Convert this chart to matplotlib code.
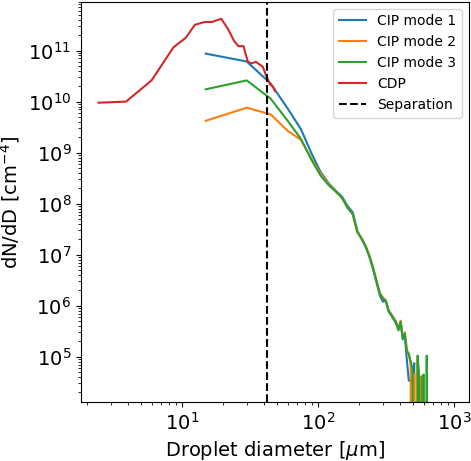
import numpy as np
import matplotlib
matplotlib.use("Agg")
import matplotlib.pyplot as plt

# CDP
cdp_d = [2.45, 3.9, 6.0, 8.7, 10.7, 12.5, 14.6, 16.8, 19.5, 21.8, 24.3, 26.1,
         28.4, 30.6, 32.6, 35.0, 39.4, 41.7, 44.6, 46.5, 48.5]
cdp_n = [9.5e9, 1.0e10, 2.6e10, 1.16e11, 1.78e11, 3.2e11, 3.6e11, 3.65e11, 4.2e11,
         2.67e11, 1.52e11, 1.22e11, 1.22e11, 6.0e10, 5.6e10, 6.0e10, 4.8e10,
         3.2e10, 2.15e10, 2.0e10, 1.6e10]

# CIP bins (15 um resolution)
cip_d = [15, 30, 45, 60, 75, 90, 105, 120, 135, 150, 165, 180, 195, 210, 225,
         240, 255, 270, 285, 300, 315, 330, 345, 360, 375, 390, 405, 420, 435,
         450, 465, 480, 495, 510, 525, 540, 555, 570, 585, 600, 615, 630, 645]

cip_mode1 = [8.7e10, 6.1e10, 2.25e10, 7.3e9, 2.88e9, 9.5e8, 4.1e8, 2.5e8, 1.8e8,
             1.38e8, 9.0e7, 6.8e7, 2.9e7, 2.0e7, 1.4e7, 8.8e6, 5.0e6, 2.8e6,
             1.6e6, 1.2e6, 1.25e6, 7.8e5, 6.5e5, 5.4e5, 4.5e5, 3.3e5, 4.6e5,
             2.2e5, 2.6e5, 8.6e4, 3.4e4, 3.4e4, 3.4e4, 7.5e4, 0, 0, 0, 0, 0,
             0, 0, 0, 0]
cip_mode2 = [4.2e9, 7.6e9, 5.6e9, 2.67e9, 1.78e9, 7.4e8, 3.8e8, 2.4e8, 1.75e8,
             1.3e8, 8.4e7, 6.2e7, 2.7e7, 2.1e7, 1.45e7, 9.4e6, 5.5e6, 3.0e6,
             1.8e6, 1.45e6, 1.28e6, 8.3e5, 6.9e5, 5.8e5, 4.9e5, 3.5e5, 5.1e5,
             2.4e5, 3.0e5, 1.4e5, 1.1e5, 7.0e4, 0, 4.5e4, 0, 9.0e4, 0, 4.0e4, 0,
             0, 0, 0, 0]
cip_mode3 = [1.74e10, 2.6e10, 1.14e10, 4.2e9, 1.86e9, 7.1e8, 3.5e8, 2.3e8, 1.73e8,
             1.32e8, 8.3e7, 6.3e7, 2.8e7, 2.04e7, 1.43e7, 9.1e6, 5.3e6, 2.95e6,
             1.72e6, 1.38e6, 1.26e6, 8.0e5, 6.7e5, 5.6e5, 4.7e5, 3.4e5, 4.9e5,
             2.3e5, 2.85e5, 1.27e5, 1.15e5, 8.1e4, 5.7e4, 0, 0, 1.05e5, 4.0e4, 0,
             4.2e4, 4.5e4, 0, 1.05e5, 0]

separation = 42.0

fig = plt.figure(figsize=(4.71, 4.61), dpi=100)
ax = fig.add_axes([0.172, 0.128, 0.824, 0.868])

ax.plot(cip_d, cip_mode1, color="tab:blue", label="CIP mode 1")
ax.plot(cip_d, cip_mode2, color="tab:orange", label="CIP mode 2")
ax.plot(cip_d, cip_mode3, color="tab:green", label="CIP mode 3")
ax.plot(cdp_d, cdp_n, color="tab:red", label="CDP")
ax.axvline(separation, color="black", linestyle="--", label="Separation")

ax.set_xscale("log")
ax.set_yscale("log")
ax.set_xlim(1.82, 1290)
ax.set_ylim(1.3e4, 9e11)

ax.set_xlabel(r"Droplet diameter [$\mu$m]", fontsize=14)
ax.set_ylabel(r"dN/dD [cm$^{-4}$]", fontsize=14)
ax.tick_params(axis="both", which="major", labelsize=14)
ax.legend(loc="upper right", fontsize=10)

fig.savefig("out.png", dpi=100)
